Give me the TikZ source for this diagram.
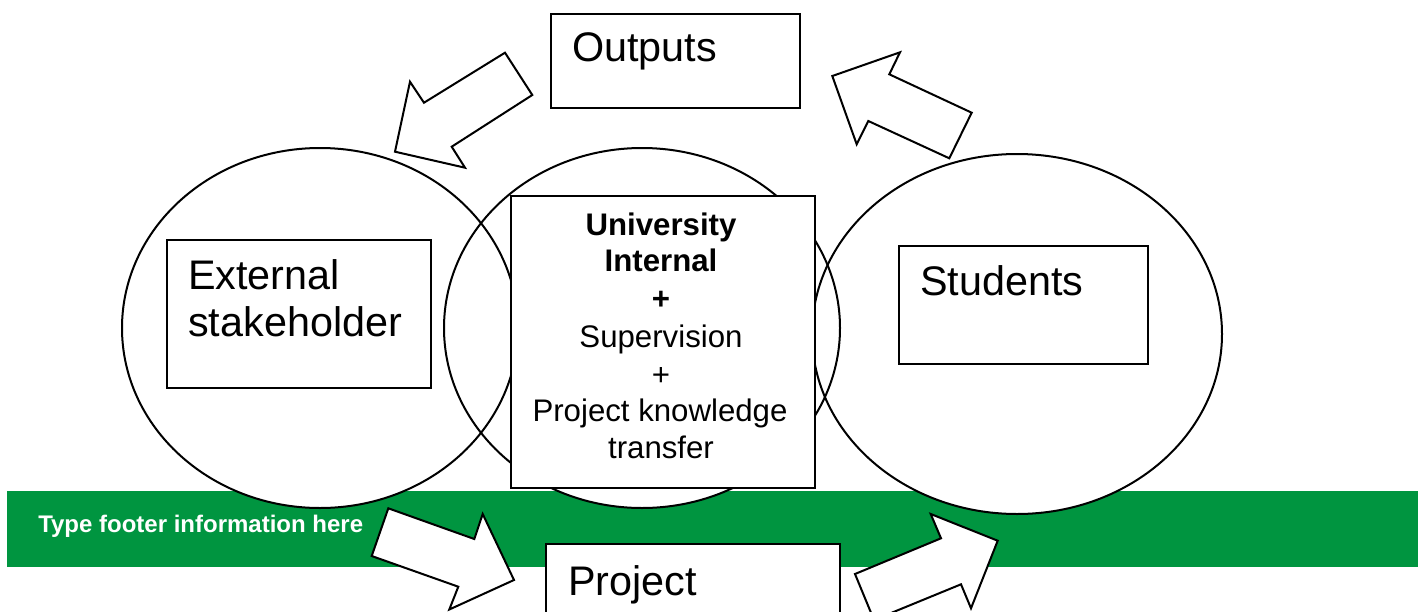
\documentclass[tikz,border=0pt]{standalone}
\usepackage{fontspec}
\setmainfont{Liberation Sans}
\definecolor{footgreen}{RGB}{0,149,64}
\begin{document}
\begin{tikzpicture}[x=0.75pt,y=-0.75pt,
  outl/.style={draw=black, line width=1.5pt},
  box/.style={draw=black, fill=white, line width=1.5pt, inner sep=0pt},
  bigtxt/.style={font=\fontsize{31}{35.5}\selectfont, anchor=base west, inner sep=0pt},
  midtxt/.style={font=\fontsize{23.4}{27.75}\selectfont, anchor=base, inner sep=0pt},
  blockarrow/.style={draw=black, fill=white, line width=1.5pt, line join=miter}]
\useasboundingbox (0,0) rectangle (1418,611);
% footer band
\fill[footgreen] (7,491) rectangle (1418,567);
\node[anchor=west, text=white, font=\bfseries\fontsize{18}{20}\selectfont, inner sep=0pt] (footer) at (38,526) {Type footer information here};
% ellipses
\fill[white] (320,328) ellipse [x radius=198, y radius=180];
\fill[white] (642,328) ellipse [x radius=198, y radius=180];
\fill[white] (1017,334) ellipse [x radius=205, y radius=180];
\draw[outl] (320,328) ellipse [x radius=198, y radius=180];
\draw[outl] (642,328) ellipse [x radius=198, y radius=180];
\draw[outl] (1017,334) ellipse [x radius=205, y radius=180];
% boxes
\node[box, anchor=north west, minimum width=198pt, minimum height=111pt] (extbox) at (166,239) {};
\node[bigtxt] (ext1) at (188,289) {External};
\node[bigtxt] (ext2) at (188,336) {stakeholder};
\node[box, anchor=north west, minimum width=186.75pt, minimum height=88.5pt] (stubox) at (898,245) {};
\node[bigtxt] (stu) at (920,295) {Students};
\node[box, anchor=north west, minimum width=186.75pt, minimum height=70.5pt] (outbox) at (550,13) {};
\node[bigtxt] (out) at (572,61) {Outputs};
\node[box, anchor=north west, minimum width=228pt, minimum height=219pt] (unibox) at (510,195) {};
\node[midtxt, font=\bfseries\fontsize{23.4}{27.75}\selectfont] (u1) at (661,235) {University};
\node[midtxt, font=\bfseries\fontsize{23.4}{27.75}\selectfont] (u2) at (661,271) {Internal};
\node[midtxt, font=\bfseries\fontsize{23.4}{27.75}\selectfont] (u3) at (661,309) {+};
\node[midtxt] (u4) at (661,347) {Supervision};
\node[midtxt] (u5) at (661,385) {+};
\node[midtxt] (u6) at (660,421) {Project knowledge};
\node[midtxt] (u7) at (661,458) {transfer};
% block arrows
\draw[blockarrow] (505,52.7) -- (532.3,95) -- (451.7,146.7) -- (465,167.7) -- (395,151.7) -- (410,81.7) -- (424,102.7) -- cycle;
\draw[blockarrow] (900,52.3) -- (889.3,74.3) -- (971.7,112.7) -- (949.3,158.3) -- (868.3,121) -- (856.7,144.3) -- (832.3,76) -- cycle;
\draw[blockarrow] (388.3,508.3) -- (474.3,539) -- (482.7,514) -- (514,580) -- (449.3,609.5) -- (458.3,586.7) -- (371.7,556) -- cycle;
\draw[blockarrow] (930.7,514) -- (941,538.3) -- (855,574) -- (874,620) -- (961,584.3) -- (971,608.3) -- (997.7,540.7) -- cycle;
% project box
\node[box, anchor=north west, minimum width=220.5pt, minimum height=75pt] (projbox) at (545,543) {};
\node[bigtxt] (proj) at (568,595) {Project};
\end{tikzpicture}
\end{document}
